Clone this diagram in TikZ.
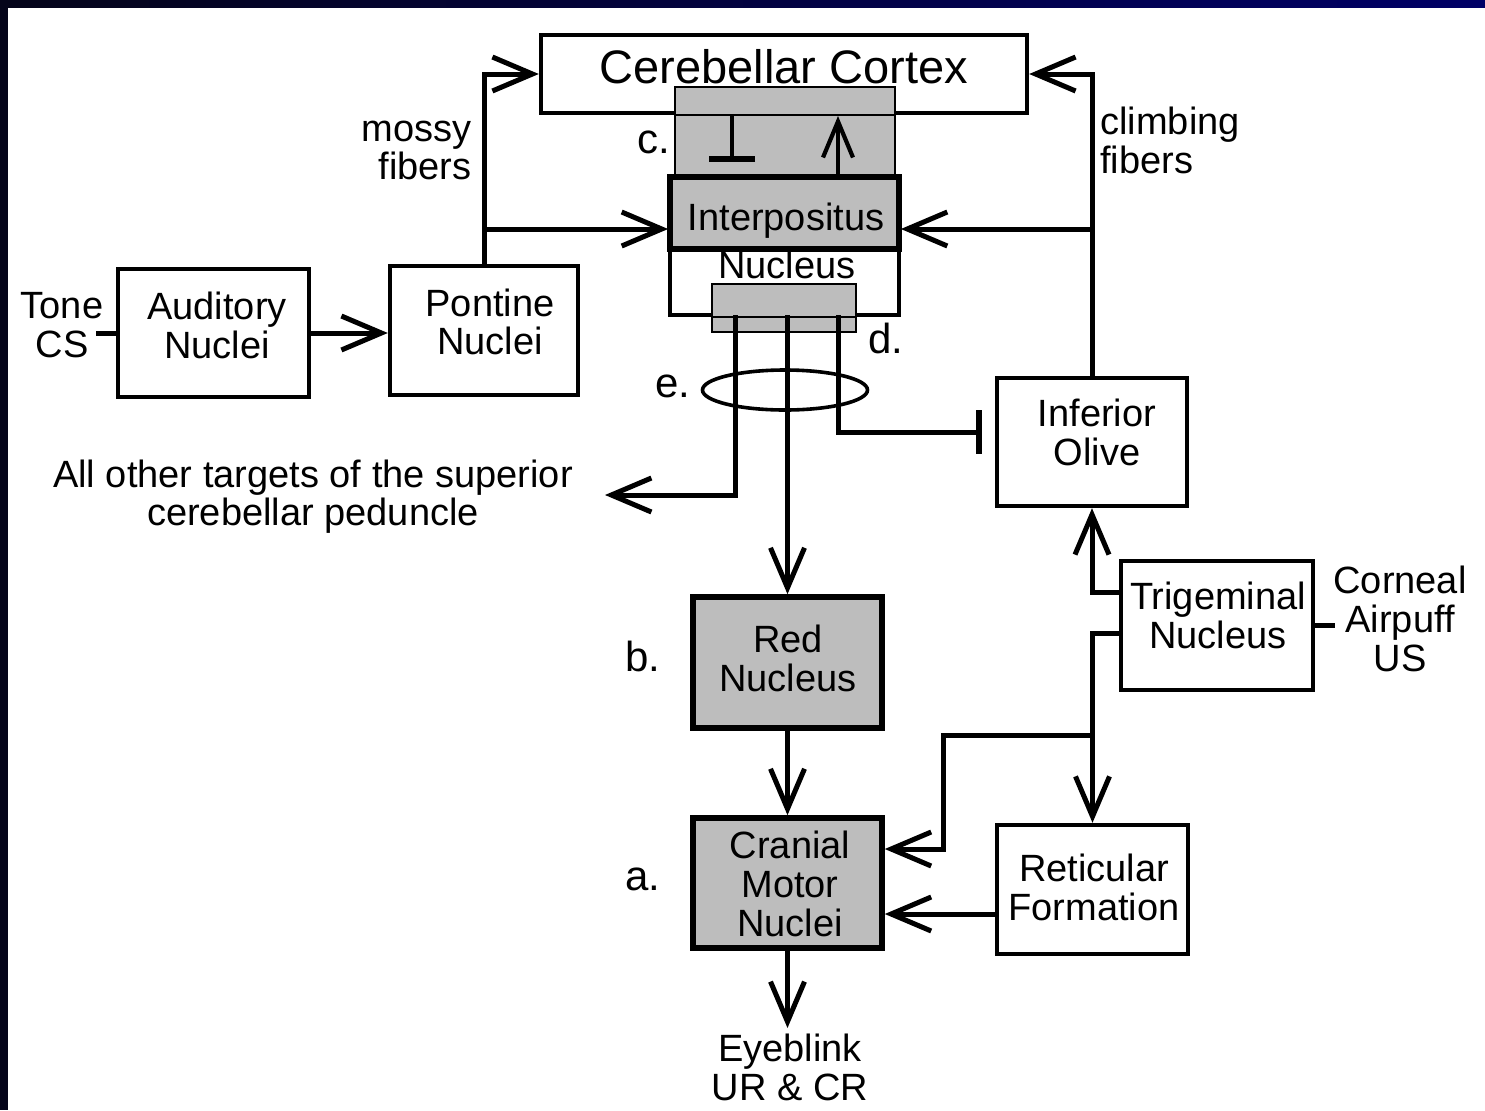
\documentclass[tikz,border=0pt]{standalone}
\usepackage{fontspec}
\setmainfont{Liberation Sans}
\usetikzlibrary{arrows.meta,shapes.geometric}
\definecolor{navy}{HTML}{000066}
\definecolor{darknavy}{HTML}{05051A}
\definecolor{shade}{gray}{0.74}
\begin{document}
\begin{tikzpicture}[x=0.5pt,y=-0.5pt,
  box/.style={draw, line width=2.2pt, fill=white, inner sep=0pt},
  shbox/.style={draw, line width=2.8pt, fill=shade, inner sep=0pt},
  txt/.style={font=\fontsize{19}{19.3}\selectfont, inner sep=0pt, align=center},
  lab/.style={font=\fontsize{21}{21}\selectfont, inner sep=0pt, anchor=base west},
  conn/.style={line width=2.5pt},
  arr/.style={conn, -{Straight Barb[length=20pt,width=17pt]}},
  inh/.style={conn, -{Bar[width=21pt,line width=3pt]}}
]
% frame
\useasboundingbox (0,0) rectangle (1485,1110);
\fill[white] (0,0) rectangle (1485,1110);
\fill[left color=darknavy, right color=navy] (0,0) rectangle (1485,7);
\fill[darknavy] (0,0) rectangle (8,1110);

% cerebellar cortex
\node[box, minimum width=243pt, minimum height=39pt] (cortex) at (784,74) {};
\node[draw, line width=1pt, fill=shade, inner sep=0pt, minimum width=110pt, minimum height=45pt] (cbox) at (785,132) {};
\draw[line width=1pt] (cortex.south -| cbox.west) -- (cortex.south -| cbox.east);
\node[font=\fontsize{23.5}{24}\selectfont, inner sep=0pt, anchor=base] (cortextxt) at (784,83) {Cerebellar Cortex};

% interpositus
\node[draw, line width=1.9pt, fill=white, inner sep=0pt, minimum width=114.5pt, minimum height=69pt] (interp) at (784.5,246) {};
\node[draw, line width=3pt, fill=shade, inner sep=0pt, minimum width=114.5pt, minimum height=36pt] (interptop) at (784.5,213) {};
\node[txt, anchor=base] (interptxt) at (786,230) {Interpositus};
\node[txt, anchor=base] (nucltxt) at (787,278) {Nucleus};
\node[draw, line width=1pt, fill=shade, inner sep=0pt, minimum width=72pt, minimum height=24pt] (dbox) at (784,308) {};
\draw[line width=1.2pt] (interp.south -| dbox.west) -- (interp.south -| dbox.east);

% c. synapses
\coordinate (tb) at (732,114);
\coordinate (tbend) at (732,162);
\draw[line width=2.3pt, -{Bar[width=23pt,line width=2.8pt]}] (tb) -- (tbend);
\coordinate (ua) at (838,177);
\coordinate (ub) at (838,116);
\draw[line width=2.1pt, -{Straight Barb[length=18pt,width=15pt]}] (ua) -- (ub);

% other boxes
\node[box, minimum width=95.5pt, minimum height=64pt] (aud) at (213.5,333) {};
\node[box, minimum width=94pt, minimum height=64.5pt] (pont) at (484,330.5) {};
\node[box, minimum width=95pt, minimum height=64pt] (olive) at (1092,442) {};
\node[box, minimum width=96pt, minimum height=64.5pt] (trig) at (1217,625.5) {};
\node[shbox, minimum width=94.5pt, minimum height=65.5pt] (red) at (787.5,662.5) {};
\node[shbox, minimum width=94.5pt, minimum height=65pt] (cran) at (787.5,883) {};
\node[box, minimum width=95.5pt, minimum height=64.5pt] (retic) at (1092.5,889.5) {};

% texts
\node[txt] (tonetxt) at (62,325) {Tone\\CS};
\node[txt] (audtxt) at (217,325.5) {Auditory\\Nuclei};
\node[txt] (ponttxt) at (490,322) {Pontine\\Nuclei};
\node[txt] (olivetxt) at (1097,432.5) {Inferior\\Olive};
\node[txt] (trigtxt) at (1218,615.5) {Trigeminal\\Nucleus};
\node[txt] (corntxt) at (1400,619) {Corneal\\Airpuff\\US};
\node[txt] (redtxt) at (788,658.5) {Red\\Nucleus};
\node[txt] (crantxt) at (790,884) {Cranial\\Motor\\Nuclei};
\node[txt] (retictxt) at (1094,887.5) {Reticular\\Formation};
\node[txt] (eyetxt) at (790,1067.5) {Eyeblink\\UR \& CR};
\node[txt] (othertxt) at (313,496.5) {All other targets of the superior\\cerebellar peduncle};
\node[txt, align=right, anchor=east] (mossytxt) at (472,150.5) {mossy\\fibers};
\node[txt, align=left, anchor=west] (climbtxt) at (1100,140.5) {climbing\\fibers};
\node[lab] (clab) at (637,153) {c.};
\node[lab] (dlab) at (868,353) {d.};
\node[lab] (elab) at (655,397) {e.};
\node[lab] (blab) at (625,671) {b.};
\node[lab] (alab) at (625,890) {a.};

% connectors
\draw[conn] (aud.west) -- ++(-20,0);
\draw[conn] (trig.east) -- ++(20,0);
\draw[arr] (aud.east) -- (aud.east -| pont.west);
\draw[arr] (pont.north) |- (cortex.west);
\coordinate (mj) at (484,229);
\draw[arr] (mj) -- (mj -| interp.west);
\draw[arr] (olive.north) |- (cortex.east);
\coordinate (cj) at (1092,229);
\draw[arr] (cj) -- (cj -| interp.east);

\coordinate (d1) at (735,315);
\coordinate (d2) at (787.5,315);
\coordinate (d3) at (838,315);
\coordinate (othertip) at (605,495);
\coordinate (inhbar) at (982,432);
\draw[arr] (d1) |- (othertip);
\draw[arr] (d2) -- (red.north);
\draw[conn, -{Bar[width=22pt,line width=3pt]}] (d3) |- (inhbar);
\node[ellipse, draw, line width=1.8pt, inner sep=0pt, minimum width=82.5pt, minimum height=20pt] (bundle) at (785,390) {};

\draw[arr] (red.south) -- (cran.north);
\coordinate (eyetip) at (787.5,1028);
\draw[arr] (cran.south) -- (eyetip);

\coordinate (t1) at (1121,592);
\draw[arr] (t1) -| (olive.south);
\coordinate (t2) at (1121,633);
\draw[arr] (t2) -| (retic.north);
\coordinate (bj) at (1092,735);
\coordinate (bk) at (943,849);
\draw[arr] (bj) -| (bk) -- (bk -| cran.east);
\coordinate (rk) at (997,914);
\draw[arr] (rk) -- (rk -| cran.east);
\end{tikzpicture}
\end{document}
